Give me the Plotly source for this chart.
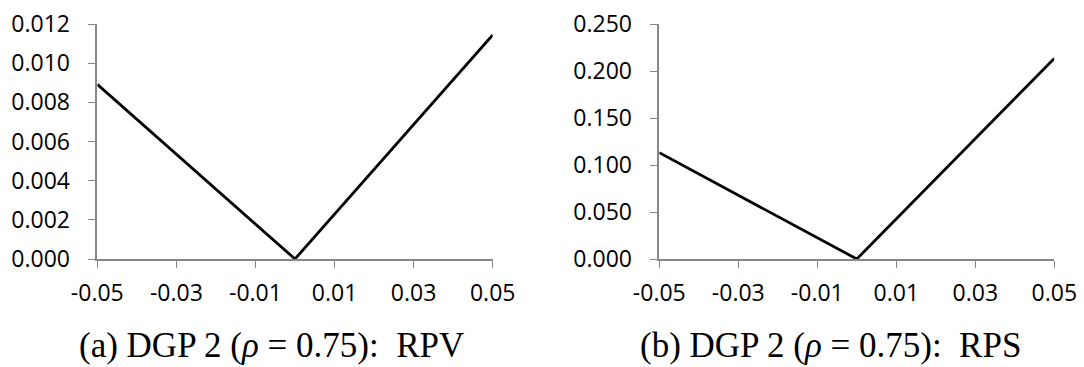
import plotly.graph_objects as go

# Data
x_vals = [-0.05, 0.0, 0.05]
rpv = [0.00892, 0.0, 0.01144]
rps = [0.1131, 0.0, 0.2134]

x_tickvals = [-0.05, -0.03, -0.01, 0.01, 0.03, 0.05]
x_ticktext = ["-0.05", "-0.03", "-0.01", "0.01", "0.03", "0.05"]
y1_tickvals = [0.000, 0.002, 0.004, 0.006, 0.008, 0.010, 0.012]
y2_tickvals = [0.000, 0.050, 0.100, 0.150, 0.200, 0.250]
captions = ["(a) DGP 2 (<i>ρ</i>\u00a0=\u00a00.75):\u00a0\u00a0RPV",
            "(b) DGP 2 (<i>ρ</i>\u00a0=\u00a00.75):\u00a0\u00a0RPS"]

W, H = 1084, 367
fig = go.Figure()
fig.add_trace(go.Scatter(x=x_vals, y=rpv, mode="lines", xaxis="x", yaxis="y",
                         line=dict(color="black", width=2.8), showlegend=False))
fig.add_trace(go.Scatter(x=x_vals, y=rps, mode="lines", xaxis="x2", yaxis="y2",
                         line=dict(color="black", width=2.8), showlegend=False))

tickfont = dict(family="Open Sans", size=23, color="black")
axcol = "#878787"
ydom = [(H - 259) / H, (H - 24) / H]

def xaxis(dom, anchor):
    return dict(domain=dom, anchor=anchor, range=[-0.05, 0.05],
                tickvals=x_tickvals, ticktext=x_ticktext, ticks="outside",
                ticklen=7, tickwidth=1.3, tickcolor=axcol, showline=True,
                linecolor=axcol, linewidth=1.5, showgrid=False, zeroline=False,
                tickfont=tickfont, ticklabelstandoff=6, automargin=False)

def yaxis(anchor, rng, vals):
    return dict(domain=ydom, anchor=anchor, range=rng, tickvals=vals,
                tickformat=".3f", ticks="outside", ticklen=8, tickwidth=1.3,
                tickcolor=axcol, showline=True, linecolor=axcol, linewidth=1.5,
                showgrid=False, zeroline=False, tickfont=tickfont,
                ticklabelstandoff=13, automargin=False)

fig.update_layout(
    width=W, height=H,
    margin=dict(l=0, r=0, t=0, b=0, autoexpand=False),
    paper_bgcolor="white", plot_bgcolor="white",
    xaxis=xaxis([97.3 / W, 492.7 / W], "y"),
    yaxis=yaxis("x", [0, 0.012], y1_tickvals),
    xaxis2=xaxis([659.3 / W, 1054.3 / W], "y2"),
    yaxis2=yaxis("x2", [0, 0.25], y2_tickvals),
)

for cx, txt in zip([271 / W, 830 / W], captions):
    fig.add_annotation(x=cx, y=(H - 345) / H, xref="paper", yref="paper",
                       text=txt, showarrow=False, xanchor="center", yanchor="middle",
                       font=dict(family="Liberation Serif", size=35, color="black"))

fig.write_html("out.html")
